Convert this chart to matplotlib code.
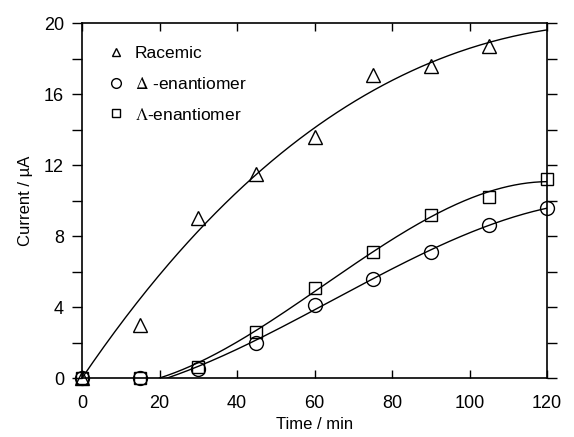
import numpy as np
import matplotlib.pyplot as plt
from matplotlib.lines import Line2D

plt.rcParams['font.family'] = ['Liberation Sans', 'DejaVu Sans']
plt.rcParams['mathtext.fontset'] = 'stix'

# data
time = np.array([0, 15, 30, 45, 60, 75, 90, 105, 120])
racemic_t = time[:-1]
racemic = np.array([0.0, 3.0, 9.0, 11.5, 13.6, 17.1, 17.6, 18.7])
delta = np.array([0.0, 0.0, 0.5, 2.0, 4.1, 5.6, 7.1, 8.6, 9.6])
lam = np.array([0.0, 0.0, 0.6, 2.6, 5.1, 7.1, 9.2, 10.2, 11.2])
onset = {'delta': 22, 'lam': 20}   # where the fitted curves leave zero (min)

labels = ['Racemic', r'$\Delta$ -enantiomer', r'$\Lambda$-enantiomer']

fig = plt.figure(figsize=(5.74, 4.37), dpi=100)
ax = fig.add_axes([0.143, 0.135, 0.81, 0.812])

# racemic: y = A(1 - exp(-t/tau)) + B t, best tau by grid search
best = None
for tau in np.linspace(10, 200, 381):
    X = np.column_stack([1 - np.exp(-racemic_t / tau), racemic_t])
    coef, res, *_ = np.linalg.lstsq(X, racemic, rcond=None)
    err = np.sum((X @ coef - racemic) ** 2)
    if best is None or err < best[0]:
        best = (err, tau, coef)
_, tau, coef = best
tt = np.linspace(0, 120, 300)
ax.plot(tt, coef[0] * (1 - np.exp(-tt / tau)) + coef[1] * tt, color='black', lw=1)

# enantiomers: cubic in (t - onset) with no constant term
for y, t0 in ((delta, onset['delta']), (lam, onset['lam'])):
    m = time > t0
    s = time[m] - t0
    X = np.column_stack([s, s ** 2, s ** 3])
    c, *_ = np.linalg.lstsq(X, y[m], rcond=None)
    ss = np.linspace(0, 120 - t0, 300)
    ax.plot(ss + t0, c[0] * ss + c[1] * ss ** 2 + c[2] * ss ** 3, color='black', lw=1)

mk = dict(mfc='none', mec='black', mew=1, ls='none', clip_on=False, zorder=5)
ax.plot(racemic_t, racemic, marker='^', ms=10, **mk)
ax.plot(time, delta, marker='o', ms=10, **mk)
ax.plot(time, lam, marker='s', ms=8.5, **mk)

ax.set_xlim(0, 120)
ax.set_ylim(0, 20)
ax.set_xticks(np.arange(0, 121, 20))
ax.set_yticks(np.arange(0, 21, 4))
ax.set_yticks(np.arange(2, 20, 4), minor=True)
ax.tick_params(axis='x', direction='in', top=True, length=6, width=1, pad=12, labelsize=13)
ax.tick_params(axis='y', which='both', direction='out', right=True, length=7, width=1, pad=6, labelsize=13)
for s in ax.spines.values():
    s.set_linewidth(1.2)

ax.set_xlabel('Time / min', fontsize=12, labelpad=4)
ax.set_ylabel('Current / µA', fontsize=12, labelpad=8)

handles = [Line2D([], [], marker=m, ms=s, mfc='none', mec='black', ls='none')
           for m, s in (('^', 6), ('o', 7), ('s', 6))]
ax.legend(handles, labels, loc='upper left', bbox_to_anchor=(0.02, 0.98), frameon=False,
          fontsize=12.5, labelspacing=0.85, handlelength=1, handletextpad=0.6)

fig.savefig('out.png', dpi=100)
